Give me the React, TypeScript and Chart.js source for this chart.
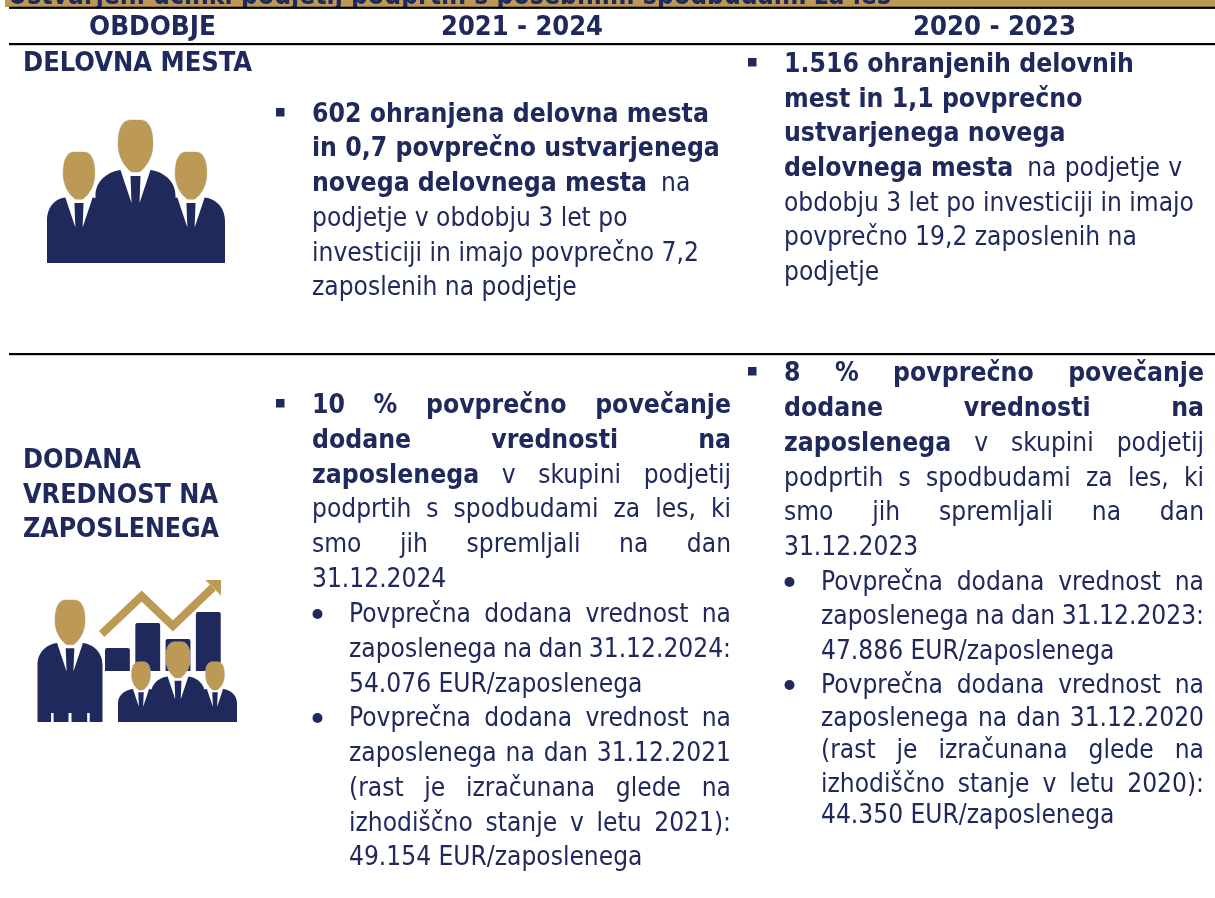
import React, { useEffect, useRef } from "react";
import { Chart, registerables } from "chart.js";
Chart.register(...registerables);

const NAVY = "#20295C";
const GOLD = "#BC9A56";
const FONT = '"DejaVu Sans Condensed", "DejaVu Sans", sans-serif';

// growth icon, values in its own small units
const iconBarHeights = [23, 48, 32, 59];
const iconBarPositions = [0, 1, 2, 3];
const iconTrendX = [-0.52, 0.8, 1.83, 3.15];
const iconTrendY = [37, 75, 45, 83.5];

const headerLabels = ["OBDOBJE", "2021 - 2024", "2020 - 2023"];
const rowLabels = ["DELOVNA MESTA", "DODANA", "VREDNOST NA", "ZAPOSLENEGA"];
const topBandTitle = "Ustvarjeni učinki podjetij podprtih s posebnimi spodbudami za les";

type Seg = [string, boolean];
type Line = { y: number; x: number; segs: Seg[]; end?: number; mark?: string };

const lines2021: Line[] = [
  { y: 122, x: 312, mark: "sq", segs: [["602 ohranjena delovna mesta", true]] },
  { y: 156, x: 312, segs: [["in 0,7 povprečno ustvarjenega", true]] },
  { y: 191, x: 312, segs: [["novega delovnega mesta", true], ["  na", false]] },
  { y: 226, x: 312, segs: [["podjetje v obdobju 3 let po", false]] },
  { y: 261, x: 312, segs: [["investiciji in imajo povprečno 7,2", false]] },
  { y: 295, x: 312, segs: [["zaposlenih na podjetje", false]] },
  { y: 413, x: 312, end: 731, mark: "sq", segs: [["10 % povprečno povečanje", true]] },
  { y: 448, x: 312, end: 731, segs: [["dodane vrednosti na", true]] },
  { y: 483, x: 312, end: 731, segs: [["zaposlenega", true], [" v skupini podjetij", false]] },
  { y: 517, x: 312, end: 731, segs: [["podprtih s spodbudami za les, ki", false]] },
  { y: 552, x: 312, end: 731, segs: [["smo jih spremljali na dan", false]] },
  { y: 587, x: 312, segs: [["31.12.2024", false]] },
  { y: 622, x: 349, end: 731, mark: "dot", segs: [["Povprečna dodana vrednost na", false]] },
  { y: 657, x: 349, end: 731, segs: [["zaposlenega na dan 31.12.2024:", false]] },
  { y: 692, x: 349, segs: [["54.076 EUR/zaposlenega", false]] },
  { y: 726, x: 349, end: 731, mark: "dot", segs: [["Povprečna dodana vrednost na", false]] },
  { y: 761, x: 349, end: 731, segs: [["zaposlenega na dan 31.12.2021", false]] },
  { y: 796, x: 349, end: 731, segs: [["(rast je izračunana glede na", false]] },
  { y: 831, x: 349, end: 731, segs: [["izhodiščno stanje v letu 2021):", false]] },
  { y: 865, x: 349, segs: [["49.154 EUR/zaposlenega", false]] },
];

const lines2020: Line[] = [
  { y: 72, x: 784, mark: "sq", segs: [["1.516 ohranjenih delovnih", true]] },
  { y: 107, x: 784, segs: [["mest in 1,1 povprečno", true]] },
  { y: 141, x: 784, segs: [["ustvarjenega novega", true]] },
  { y: 176, x: 784, segs: [["delovnega mesta", true], ["  na podjetje v", false]] },
  { y: 211, x: 784, segs: [["obdobju 3 let po investiciji in imajo", false]] },
  { y: 245, x: 784, segs: [["povprečno 19,2 zaposlenih na", false]] },
  { y: 280, x: 784, segs: [["podjetje", false]] },
  { y: 381, x: 784, end: 1204, mark: "sq", segs: [["8 % povprečno povečanje", true]] },
  { y: 416, x: 784, end: 1204, segs: [["dodane vrednosti na", true]] },
  { y: 451, x: 784, end: 1204, segs: [["zaposlenega", true], [" v skupini podjetij", false]] },
  { y: 486, x: 784, end: 1204, segs: [["podprtih s spodbudami za les, ki", false]] },
  { y: 520, x: 784, end: 1204, segs: [["smo jih spremljali na dan", false]] },
  { y: 555, x: 784, segs: [["31.12.2023", false]] },
  { y: 590, x: 821, end: 1204, mark: "dot", segs: [["Povprečna dodana vrednost na", false]] },
  { y: 624, x: 821, end: 1204, segs: [["zaposlenega na dan 31.12.2023:", false]] },
  { y: 659, x: 821, segs: [["47.886 EUR/zaposlenega", false]] },
  { y: 693, x: 821, end: 1204, mark: "dot", segs: [["Povprečna dodana vrednost na", false]] },
  { y: 726, x: 821, end: 1204, segs: [["zaposlenega na dan 31.12.2020", false]] },
  { y: 758, x: 821, end: 1204, segs: [["(rast je izračunana glede na", false]] },
  { y: 792, x: 821, end: 1204, segs: [["izhodiščno stanje v letu 2020):", false]] },
  { y: 823, x: 821, segs: [["44.350 EUR/zaposlenega", false]] },
];

const SIZE = 26;
const SCALE_REGULAR = 1.003;
const SCALE_BOLD = 1.013;

function fontOf(bold: boolean, size = SIZE) {
  return `${bold ? "bold " : ""}${size}px ${FONT}`;
}

function drawScaled(ctx: CanvasRenderingContext2D, t: string, x: number, y: number, sx: number) {
  ctx.save();
  ctx.translate(x, y);
  ctx.scale(sx, 1);
  ctx.textBaseline = "alphabetic";
  ctx.textAlign = "left";
  ctx.fillText(t, 0, 0);
  ctx.restore();
}

function drawFit(ctx: CanvasRenderingContext2D, t: string, x: number, end: number, y: number, size: number) {
  ctx.font = fontOf(true, size);
  const w = ctx.measureText(t).width;
  drawScaled(ctx, t, x, y, (end - x) / w);
}

function drawLine(ctx: CanvasRenderingContext2D, l: Line) {
  ctx.fillStyle = NAVY;
  const items: { w: string; b: boolean; wide: boolean }[] = [];
  l.segs.forEach(([t, b]) => {
    const wide = t.startsWith("  ");
    t.split(" ").filter(Boolean).forEach((w, i) => items.push({ w, b, wide: wide && i === 0 }));
  });
  const sx = (b: boolean) => (b ? SCALE_BOLD : SCALE_REGULAR);
  const measure = (t: string, b: boolean) => {
    ctx.font = fontOf(b);
    return ctx.measureText(t).width * sx(b);
  };
  const widths = items.map((i) => measure(i.w, i.b));
  const total = widths.reduce((a, b) => a + b, 0);
  const baseGap = measure(" ", l.segs[0][1]);
  const gap = l.end && items.length > 1 ? (l.end - l.x - total) / (items.length - 1) : baseGap;
  let x = l.x;
  items.forEach((it, i) => {
    if (it.wide && !l.end) x += 14 - gap;
    ctx.font = fontOf(it.b);
    drawScaled(ctx, it.w, x, l.y, sx(it.b));
    x += widths[i] + gap;
  });
  if (l.mark === "sq") {
    const bx = l.x === 312 ? 276 : 748;
    ctx.fillRect(bx, l.y - 14, 8.5, 8.5);
  }
  if (l.mark === "dot") {
    ctx.beginPath();
    ctx.arc(l.x - 31.5, l.y - 8, 5, 0, Math.PI * 2);
    ctx.fill();
  }
}

function person(
  ctx: CanvasRenderingContext2D,
  cx: number,
  headTop: number,
  bottom: number,
  s: number,
  suitHalf: number,
  slits = false,
) {
  // suit
  const t = headTop + 50 * s;
  ctx.fillStyle = NAVY;
  ctx.beginPath();
  ctx.moveTo(cx - suitHalf, bottom);
  ctx.lineTo(cx - suitHalf, t + 26 * s);
  ctx.bezierCurveTo(cx - suitHalf, t + 8 * s, cx - 24 * s, t + 1 * s, cx - 15 * s, t);
  ctx.lineTo(cx - 4 * s, t + 33 * s);
  ctx.lineTo(cx - 5 * s, t + 6 * s);
  ctx.lineTo(cx + 5 * s, t + 6 * s);
  ctx.lineTo(cx + 4 * s, t + 33 * s);
  ctx.lineTo(cx + 15 * s, t);
  ctx.bezierCurveTo(cx + 24 * s, t + 1 * s, cx + suitHalf, t + 8 * s, cx + suitHalf, t + 26 * s);
  ctx.lineTo(cx + suitHalf, bottom);
  ctx.closePath();
  ctx.fill();
  if (slits) {
    ctx.fillStyle = "#fff";
    ctx.fillRect(cx - 22 * s, bottom - 9, 2.5, 9);
    ctx.fillRect(cx - 1.5, bottom - 9, 3, 9);
    ctx.fillRect(cx + 20 * s, bottom - 9, 2.5, 9);
  }
  // head
  const p = (dx: number, dy: number): [number, number] => [cx + dx * s, headTop + dy * s];
  ctx.fillStyle = GOLD;
  ctx.strokeStyle = "#c9c9cc";
  ctx.lineWidth = 0.8;
  ctx.beginPath();
  ctx.moveTo(...p(-4, 52));
  ctx.bezierCurveTo(...p(-11, 47), ...p(-17.5, 37), ...p(-17.5, 24));
  ctx.bezierCurveTo(...p(-17.5, 8), ...p(-13, 0), ...p(-5, 0));
  ctx.lineTo(...p(5, 0));
  ctx.bezierCurveTo(...p(13, 0), ...p(17.5, 8), ...p(17.5, 24));
  ctx.bezierCurveTo(...p(17.5, 37), ...p(11, 47), ...p(4, 52));
  ctx.closePath();
  ctx.stroke();
  ctx.fill();
}

const tablePlugin = {
  id: "table",
  afterDraw(chart: any) {
    const ctx: CanvasRenderingContext2D = chart.ctx;
    ctx.save();
    ctx.fillStyle = GOLD;
    ctx.fillRect(5, 0, 1210, 7);
    ctx.save();
    ctx.beginPath();
    ctx.rect(5, 0, 1210, 7);
    ctx.clip();
    ctx.fillStyle = NAVY;
    drawFit(ctx, topBandTitle, 8, 891, 4, 28);
    ctx.restore();
    ctx.fillStyle = "#000";
    ctx.fillRect(9, 6.7, 1206, 2.2);
    ctx.fillRect(9, 43, 1206, 2.2);
    ctx.fillRect(9, 353, 1206, 2.2);

    ctx.fillStyle = NAVY;
    drawFit(ctx, headerLabels[0], 89, 216, 35, 26);
    drawFit(ctx, headerLabels[1], 441, 603, 35, 26);
    drawFit(ctx, headerLabels[2], 913, 1076, 35, 26);
    drawFit(ctx, rowLabels[0], 23, 252, 71, 26);
    drawFit(ctx, rowLabels[1], 23, 141, 468, 26);
    drawFit(ctx, rowLabels[2], 23, 218, 503, 26);
    drawFit(ctx, rowLabels[3], 23, 219, 537, 26);

    [...lines2021, ...lines2020].forEach((l) => drawLine(ctx, l));

    person(ctx, 79, 152, 263, 0.91, 32);
    person(ctx, 191, 152, 263, 0.91, 34);
    person(ctx, 135.5, 120, 263, 1, 40);

    person(ctx, 70, 600, 722, 0.86, 32.5, true);
    person(ctx, 141, 662, 722, 0.54, 23);
    person(ctx, 215, 662, 722, 0.54, 22);
    person(ctx, 178, 642, 722, 0.69, 27);
    ctx.restore();
  },
};

function arrowHead() {
  const c = document.createElement("canvas");
  c.width = 16;
  c.height = 16;
  const g = c.getContext("2d")!;
  g.fillStyle = GOLD;
  g.beginPath();
  g.moveTo(0, 0);
  g.lineTo(16, 0);
  g.lineTo(16, 16);
  g.closePath();
  g.fill();
  return c;
}

export default function App() {
  const mainRef = useRef<HTMLCanvasElement>(null);
  const iconRef = useRef<HTMLCanvasElement>(null);
  useEffect(() => {
    document.body.style.margin = "0";
    const head = arrowHead();
    const icon = new Chart(iconRef.current!, {
      type: "bar",
      data: {
        datasets: [
          {
            type: "line",
            data: iconTrendX.map((x, i) => ({ x, y: iconTrendY[i] })),
            borderColor: GOLD,
            backgroundColor: GOLD,
            borderWidth: 8,
            borderJoinStyle: "miter",
            tension: 0,
            pointRadius: [0, 0, 0, 8],
            pointStyle: [false, false, false, head],
            order: 0,
          } as any,
          {
            type: "bar",
            data: iconBarPositions.map((x, i) => ({ x, y: iconBarHeights[i] })),
            backgroundColor: NAVY,
            barPercentage: 0.82,
            categoryPercentage: 1,
            borderRadius: 2,
            order: 1,
          } as any,
        ],
      },
      options: {
        animation: false,
        responsive: false,
        events: [],
        layout: { padding: 0, autoPadding: false },
        plugins: { legend: { display: false }, tooltip: { enabled: false } },
        scales: {
          x: { type: "linear", display: false, min: -0.84, max: 3.65, offset: false },
          y: { display: false, min: -4, max: 96 },
        },
      },
    });
    const main = new Chart(mainRef.current!, {
      type: "scatter",
      data: { datasets: [{ data: [] }] },
      options: {
        animation: false,
        responsive: false,
        events: [],
        plugins: { legend: { display: false }, tooltip: { enabled: false } },
        scales: { x: { display: false }, y: { display: false } },
      },
      plugins: [tablePlugin],
    });
    return () => {
      icon.destroy();
      main.destroy();
    };
  }, []);
  return (
    <div style={{ position: "relative", width: 1215, height: 898, overflow: "hidden", background: "#fff", filter: "blur(0.3px)" }}>
      <canvas ref={iconRef} width={136} height={100} style={{ position: "absolute", left: 92, top: 575 }} />
      <canvas ref={mainRef} width={1215} height={898} style={{ position: "absolute", left: 0, top: 0 }} />
    </div>
  );
}
